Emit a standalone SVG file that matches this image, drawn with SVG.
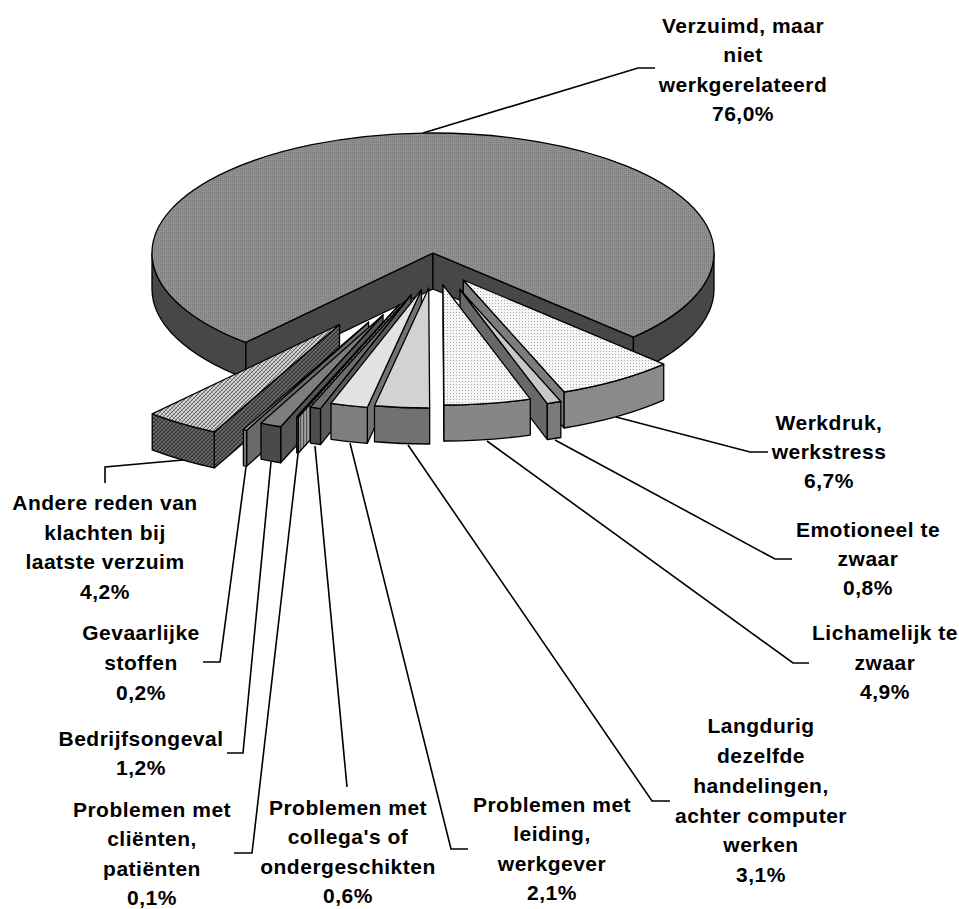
<svg xmlns="http://www.w3.org/2000/svg" width="959" height="909" viewBox="0 0 959 909">
<defs>
<style>
.lbl{font-family:"Liberation Sans",Arial,sans-serif;font-weight:bold;font-size:21px;letter-spacing:0.5px;text-anchor:middle;fill:#000}
.e{stroke:#000;stroke-width:1.3;stroke-linejoin:round}
.lead{fill:none;stroke:#000;stroke-width:1.6}
</style>
<pattern id="hatchL" width="4" height="4" patternUnits="userSpaceOnUse">
<rect width="4" height="4" fill="#d8d8d8"/>
<path d="M0,4 L4,0 M-1,1 L1,-1 M3,5 L5,3" stroke="#5a5a5a" stroke-width="1"/>
<path d="M0,0 L4,4" stroke="#8a8a8a" stroke-width="0.7"/>
</pattern>
<pattern id="hatchD" width="4" height="4" patternUnits="userSpaceOnUse">
<rect width="4" height="4" fill="#6a6a6a"/>
<path d="M0,4 L4,0 M-1,1 L1,-1 M3,5 L5,3" stroke="#2a2a2a" stroke-width="1"/>
<path d="M0,0 L4,4" stroke="#3a3a3a" stroke-width="0.7"/>
</pattern>
<pattern id="stripes" width="3" height="3" patternUnits="userSpaceOnUse">
<rect width="3" height="3" fill="#a0a0a0"/>
<rect width="1.2" height="3" fill="#505050"/>
</pattern>
<pattern id="dotsW" width="3" height="3" patternUnits="userSpaceOnUse">
<rect width="3" height="3" fill="#f6f6f6"/>
<rect width="1" height="1" fill="#a8a8a8"/>
</pattern>
<pattern id="dotsG" width="2" height="2" patternUnits="userSpaceOnUse">
<rect width="2" height="2" fill="#909090"/>
<rect width="1" height="1" fill="#7a7a7a"/>
</pattern>
</defs>
<rect width="959" height="909" fill="#fff"/>

<g id="node-verzuimd">
<path class="e" fill="#474747" d="M433,253 L245.71,342.46 L245.71,378.46 L433,289 Z"/>
<path class="e" fill="#474747" d="M433,253 L633.42,337.11 L633.42,373.11 L433,289 Z"/>
<path class="e" fill="#474747" d="M245.71,342.46 A281,120 0 0 1 152,253 L152,289 A281,120 0 0 0 245.71,378.46 Z"/>
<path class="e" fill="#474747" d="M714,253 A281,120 0 0 1 633.42,337.11 L633.42,373.11 A281,120 0 0 0 714,289 Z"/>
<path class="e" fill="url(#dotsG)" d="M433,253 L245.71,342.46 A281,120 0 1 1 633.42,337.11 Z"/>
<text class="lbl"><tspan x="743" y="33">Verzuimd, maar</tspan><tspan x="743" y="62">niet</tspan><tspan x="743" y="92">werkgerelateerd</tspan><tspan x="743" y="121">76,0%</tspan></text>
</g>

<g id="node-andere">
<path class="e" fill="url(#hatchD)" d="M339.5,324.5 L214.28,431.93 L214.28,467.93 L339.5,360.5 Z"/>
<path class="e" fill="url(#hatchD)" d="M214.28,431.93 A281,120 0 0 1 152.21,413.96 L152.21,449.96 A281,120 0 0 0 214.28,467.93 Z"/>
<path class="e" fill="url(#hatchL)" d="M339.5,324.5 L214.28,431.93 A281,120 0 0 1 152.21,413.96 Z"/>
<text class="lbl"><tspan x="105" y="510">Andere reden van</tspan><tspan x="105" y="540">klachten bij</tspan><tspan x="105" y="569">laatste verzuim</tspan><tspan x="105" y="599">4,2%</tspan></text>
</g>

<g id="node-werkdruk">
<path class="e" fill="#7c7c7c" d="M463.3,280 L564.14,392.01 L564.14,428.01 L463.3,316 Z"/>
<path class="e" fill="#8a8a8a" d="M663.72,364.11 A281,120 0 0 1 564.14,392.01 L564.14,428.01 A281,120 0 0 0 663.72,400.11 Z"/>
<path class="e" fill="url(#dotsW)" d="M463.3,280 L663.72,364.11 A281,120 0 0 1 564.14,392.01 Z"/>
<text class="lbl"><tspan x="829" y="430">Werkdruk,</tspan><tspan x="829" y="459">werkstress</tspan><tspan x="829" y="488">6,7%</tspan></text>
</g>

<g id="node-gevaarlijke">
<path class="e" fill="#6a6a6a" d="M368.6,322.2 L246.6,430.3 L246.6,466.3 L368.6,358.2 Z"/>
<path class="e" fill="#7a7a7a" d="M246.6,430.3 A281,120 0 0 1 243.38,429.63 L243.38,465.63 A281,120 0 0 0 246.6,466.3 Z"/>
<path class="e" fill="#b4b4b4" d="M368.6,322.2 L246.6,430.3 A281,120 0 0 1 243.38,429.63 Z"/>
<text class="lbl"><tspan x="141" y="640">Gevaarlijke</tspan><tspan x="141" y="670">stoffen</tspan><tspan x="141" y="700">0,2%</tspan></text>
</g>

<g id="node-bedrijfsongeval">
<path class="e" fill="#555555" d="M383,315 L280.7,426.76 L280.7,462.76 L383,351 Z"/>
<path class="e" fill="#4a4a4a" d="M280.7,426.76 A281,120 0 0 1 261,423.1 L261,459.1 A281,120 0 0 0 280.7,462.76 Z"/>
<path class="e" fill="#7e7e7e" d="M383,315 L280.7,426.76 A281,120 0 0 1 261,423.1 Z"/>
<text class="lbl"><tspan x="141" y="746">Bedrijfsongeval</tspan><tspan x="141" y="775">1,2%</tspan></text>
</g>

<g id="node-clienten">
<path class="e" fill="url(#stripes)" d="M399,305 L298.39,417.05 L298.39,453.05 L399,341 Z"/>
<path class="e" fill="url(#stripes)" d="M298.39,417.05 A281,120 0 0 1 296.7,416.76 L296.7,452.76 A281,120 0 0 0 298.39,453.05 Z"/>
<path class="e" fill="#b0b0b0" d="M399,305 L298.39,417.05 A281,120 0 0 1 296.7,416.76 Z"/>
<text class="lbl"><tspan x="152" y="817">Problemen met</tspan><tspan x="152" y="846">cliënten,</tspan><tspan x="152" y="876">patiënten</tspan><tspan x="152" y="905">0,1%</tspan></text>
</g>

<g id="node-collegas">
<path class="e" fill="#5a5a5a" d="M411,295 L320.5,408.61 L320.5,444.61 L411,331 Z"/>
<path class="e" fill="#4c4c4c" d="M320.5,408.61 A281,120 0 0 1 310.39,407.05 L310.39,443.05 A281,120 0 0 0 320.5,444.61 Z"/>
<path class="e" fill="#6e6e6e" d="M411,295 L320.5,408.61 A281,120 0 0 1 310.39,407.05 Z"/>
<text class="lbl"><tspan x="348" y="815">Problemen met</tspan><tspan x="348" y="844">collega's of</tspan><tspan x="348" y="874">ondergeschikten</tspan><tspan x="348" y="903">0,6%</tspan></text>
</g>

<g id="node-emotioneel">
<path class="e" fill="#686868" d="M460,289.5 L547.3,403.56 L547.3,439.56 L460,325.5 Z"/>
<path class="e" fill="#7a7a7a" d="M560.84,401.51 A281,120 0 0 1 547.3,403.56 L547.3,439.56 A281,120 0 0 0 560.84,437.51 Z"/>
<path class="e" fill="#c8c8c8" d="M460,289.5 L560.84,401.51 A281,120 0 0 1 547.3,403.56 Z"/>
<text class="lbl"><tspan x="868" y="537">Emotioneel te</tspan><tspan x="868" y="566">zwaar</tspan><tspan x="868" y="595">0,8%</tspan></text>
</g>

<g id="node-leiding">
<path class="e" fill="#727272" d="M421.5,289.7 L367.31,407.45 L367.31,443.45 L421.5,325.7 Z"/>
<path class="e" fill="#7e7e7e" d="M367.31,407.45 A281,120 0 0 1 331,403.31 L331,439.31 A281,120 0 0 0 367.31,443.45 Z"/>
<path class="e" fill="#e2e2e2" d="M421.5,289.7 L367.31,407.45 A281,120 0 0 1 331,403.31 Z"/>
<text class="lbl"><tspan x="552" y="812">Problemen met</tspan><tspan x="552" y="841">leiding,</tspan><tspan x="552" y="871">werkgever</tspan><tspan x="552" y="900">2,1%</tspan></text>
</g>

<g id="node-lichamelijk">
<path class="e" fill="#777777" d="M443,285 L443.98,405 L443.98,441 L443,321 Z"/>
<path class="e" fill="#868686" d="M530.3,399.06 A281,120 0 0 1 443.98,405 L443.98,441 A281,120 0 0 0 530.3,435.06 Z"/>
<path class="e" fill="url(#dotsW)" d="M443,285 L530.3,399.06 A281,120 0 0 1 443.98,405 Z"/>
<text class="lbl"><tspan x="885" y="640">Lichamelijk te</tspan><tspan x="885" y="670">zwaar</tspan><tspan x="885" y="699">4,9%</tspan></text>
</g>

<g id="node-langdurig">
<path class="e" fill="#717171" d="M429.68,408 A281,120 0 0 1 374.51,405.75 L374.51,441.75 A281,120 0 0 0 429.68,444 Z"/>
<path class="e" fill="#d2d2d2" d="M428.7,288 L429.68,408 A281,120 0 0 1 374.51,405.75 Z"/>
<text class="lbl"><tspan x="761" y="733">Langdurig</tspan><tspan x="761" y="763">dezelfde</tspan><tspan x="761" y="793">handelingen,</tspan><tspan x="761" y="823">achter computer</tspan><tspan x="761" y="852">werken</tspan><tspan x="761" y="882">3,1%</tspan></text>
</g>

<g id="connectors">
<polyline class="lead" points="423,133 638,68 655,68"/>
<polyline class="lead" points="616,417 750,452 768,452"/>
<polyline class="lead" points="555,440 775,559 792,559"/>
<polyline class="lead" points="487,441 793,663 809,663"/>
<polyline class="lead" points="408,445 652,801 670,801"/>
<polyline class="lead" points="350,443 451,849 468,849"/>
<polyline class="lead" points="315,446 347,787"/>
<polyline class="lead" points="298,454 252,853 234,853"/>
<polyline class="lead" points="271,462 243,753 227,753"/>
<polyline class="lead" points="246,467 220,662 203,662"/>
<polyline class="lead" points="183,460 105,467 105,483"/>
</g>
</svg>
